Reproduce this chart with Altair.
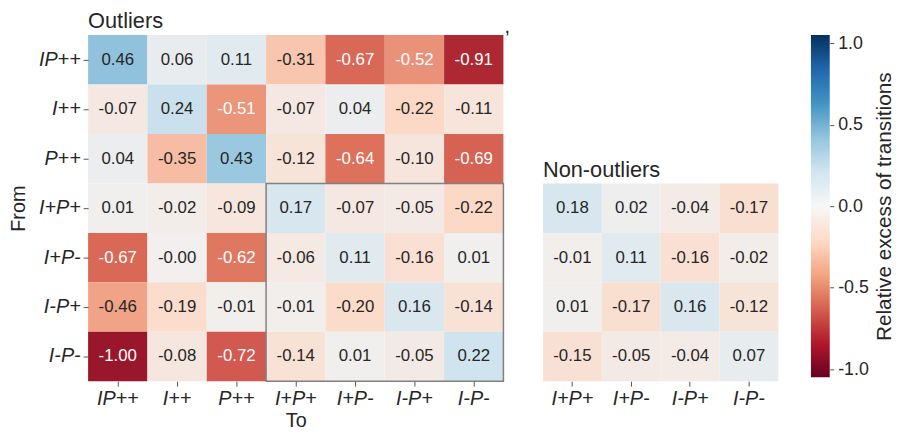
import altair as alt
import pandas as pd

FONT = "Liberation Sans"
TXT = "#262626"

states_all = ["IP++", "I++", "P++", "I+P+", "I+P-", "I-P+", "I-P-"]
states_sub = ["I+P+", "I+P-", "I-P+", "I-P-"]

outliers = [
    [0.46, 0.06, 0.11, -0.31, -0.67, -0.52, -0.91],
    [-0.07, 0.24, -0.51, -0.07, 0.04, -0.22, -0.11],
    [0.04, -0.35, 0.43, -0.12, -0.64, -0.10, -0.69],
    [0.01, -0.02, -0.09, 0.17, -0.07, -0.05, -0.22],
    [-0.67, -0.0, -0.62, -0.06, 0.11, -0.16, 0.01],
    [-0.46, -0.19, -0.01, -0.01, -0.20, 0.16, -0.14],
    [-1.00, -0.08, -0.72, -0.14, 0.01, -0.05, 0.22],
]
non_outliers = [
    [0.18, 0.02, -0.04, -0.17],
    [-0.01, 0.11, -0.16, -0.02],
    [0.01, -0.17, 0.16, -0.12],
    [-0.15, -0.05, -0.04, 0.07],
]
cbar_ticks = [-1.0, -0.5, 0.0, 0.5, 1.0]
cbar_domain = [-1.05, 1.05]
rdbu = ["#67001f", "#b2182b", "#d6604d", "#f4a582", "#fddbc7", "#f7f7f7",
        "#d1e5f0", "#92c5de", "#4393c3", "#2166ac", "#053061"]


def to_df(mat, rows, cols):
    recs = []
    for r, row in zip(rows, mat):
        for c, v in zip(cols, row):
            recs.append({"From": r, "To": c, "v": v, "lab": f"{v:.2f}"})
    return pd.DataFrame(recs)


df_out = to_df(outliers, states_all, states_all)
df_non = to_df(non_outliers, states_sub, states_sub)

cscale = alt.Scale(scheme="redblue", domain=cbar_domain)
band_x_all = alt.Scale(domain=states_all, paddingInner=0, paddingOuter=0)
band_y_all = alt.Scale(domain=states_all, paddingInner=0, paddingOuter=0)
band_x_sub = alt.Scale(domain=states_sub, paddingInner=0, paddingOuter=0)

txt_color = alt.condition("abs(datum.v) > 0.5", alt.value("white"), alt.value(TXT))

# ---- left panel: outliers
xax = alt.Axis(title="To", labelAngle=0, labelFontStyle="italic", labelFontSize=20,
               titleFontSize=20, titleFontWeight="normal", tickSize=5, labelPadding=3,
               titlePadding=2)
yax = alt.Axis(title="From", labelFontStyle="italic", labelFontSize=20,
               titleFontSize=20, titleFontWeight="normal", tickSize=5, labelPadding=3,
               titlePadding=10)

base_l = alt.Chart(df_out)
rect_l = base_l.mark_rect().encode(
    x=alt.X("To:N", scale=band_x_all, axis=xax),
    y=alt.Y("From:N", scale=band_y_all, axis=yax),
    color=alt.Color("v:Q", scale=cscale, legend=None),
)
text_l = base_l.mark_text(font=FONT, fontSize=17).encode(
    x=alt.X("To:N", scale=band_x_all),
    y=alt.Y("From:N", scale=band_y_all),
    text="lab:N",
    color=txt_color,
)
box_df = pd.DataFrame({"x0": [states_sub[0]], "x1": [states_sub[-1]],
                       "y0": [states_sub[0]], "y1": [states_sub[-1]]})
box = alt.Chart(box_df).mark_rect(fillOpacity=0, stroke="#808080", strokeWidth=1.5).encode(
    x=alt.X("x0:N", scale=band_x_all, bandPosition=0),
    x2=alt.X2("x1:N", bandPosition=1),
    y=alt.Y("y0:N", scale=band_y_all, bandPosition=0),
    y2=alt.Y2("y1:N", bandPosition=1),
)
comma_df = pd.DataFrame({"x": [states_all[-1]], "y": [states_all[0]], "t": [","]})
comma = alt.Chart(comma_df).mark_text(font=FONT, fontSize=20, align="left",
                                      baseline="alphabetic", dx=1, dy=-2, color=TXT).encode(
    x=alt.X("x:N", scale=band_x_all, bandPosition=1),
    y=alt.Y("y:N", scale=band_y_all, bandPosition=0),
    text="t:N",
)
title_l = alt.Chart(pd.DataFrame({"t": ["Outliers"]})).mark_text(
    font=FONT, fontSize=22, align="left", baseline="alphabetic", color=TXT).encode(
    text="t:N", x=alt.value(0), y=alt.value(-7))
left = alt.layer(rect_l, text_l, box, comma, title_l).properties(width=420, height=350)

# ---- right panel: non-outliers
xax_r = alt.Axis(title=None, labelAngle=0, labelFontStyle="italic", labelFontSize=20,
                 tickSize=5, labelPadding=3)
base_r = alt.Chart(df_non)
rect_r = base_r.mark_rect().encode(
    x=alt.X("To:N", scale=band_x_sub, axis=xax_r),
    y=alt.Y("From:N", scale=band_y_all, axis=None),
    color=alt.Color("v:Q", scale=cscale, legend=None),
)
text_r = base_r.mark_text(font=FONT, fontSize=17).encode(
    x=alt.X("To:N", scale=band_x_sub),
    y=alt.Y("From:N", scale=band_y_all),
    text="lab:N",
    color=txt_color,
)
title_r = alt.Chart(pd.DataFrame({"t": ["Non-outliers"]})).mark_text(
    font=FONT, fontSize=22, align="left", baseline="alphabetic", color=TXT).encode(
    text="t:N", x=alt.value(0), y=alt.value(143))
right = alt.layer(rect_r, text_r, title_r).properties(width=238, height=350)

# ---- colorbar
grad = alt.Gradient(
    gradient="linear",
    stops=[alt.GradientStop(color=c, offset=i / (len(rdbu) - 1)) for i, c in enumerate(rdbu)],
    x1=0, x2=0, y1=1, y2=0,
)
cb_df = pd.DataFrame({"lo": [cbar_domain[0]], "hi": [cbar_domain[1]]})
cbar = alt.Chart(cb_df).mark_rect(fill=grad).encode(
    y=alt.Y("lo:Q", scale=alt.Scale(domain=cbar_domain, nice=False, zero=False),
            axis=alt.Axis(orient="right", values=cbar_ticks,
                          labelExpr="(datum.value < 0 ? '-' : '') + format(abs(datum.value), '.1f')",
                          title="Relative excess of transitions", titleAngle=270,
                          titleBaseline="top",
                          titleFontSize=21, titleFontWeight="normal", labelFontSize=18,
                          tickSize=4, labelPadding=4, titlePadding=5, grid=False)),
    y2="hi:Q",
    x=alt.value(0), x2=alt.value(19),
).properties(width=19, height=346)

inner = alt.hconcat(left, right, spacing=33)
chart = alt.hconcat(inner, cbar, spacing=33).configure_view(stroke=None).configure_axis(
    domain=False, grid=False, labelFont=FONT, titleFont=FONT, labelColor=TXT, titleColor=TXT,
    tickColor="#555555",
).properties(padding={"left": 0, "top": 0, "right": 0, "bottom": 5})

chart.save("out.html", embed_options={"renderer": "svg", "actions": False})
